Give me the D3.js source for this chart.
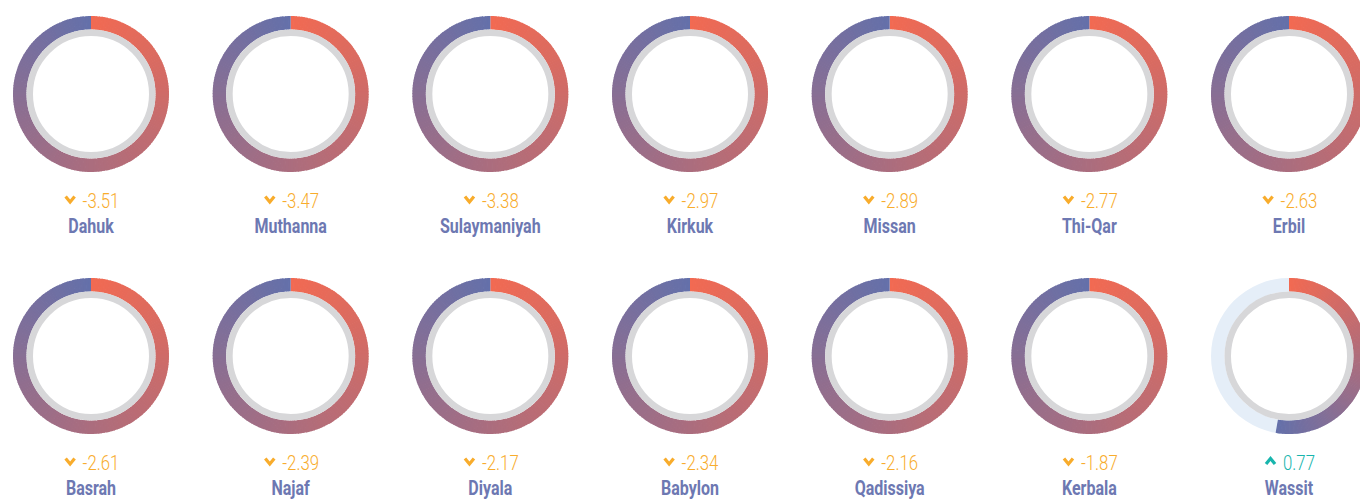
<!DOCTYPE html>
<html>
<head>
<meta charset="utf-8">
<script src="https://cdn.jsdelivr.net/npm/d3@7"></script>
<style>
  body { margin: 0; background: #fff; }
  svg { display: block; }
</style>
</head>
<body>
<div id="chart"></div>
<script>
// governorates, in the order they are drawn (two rows of seven)
const regions = ['Dahuk', 'Muthanna', 'Sulaymaniyah', 'Kirkuk', 'Missan', 'Thi-Qar', 'Erbil',
                 'Basrah', 'Najaf', 'Diyala', 'Babylon', 'Qadissiya', 'Kerbala', 'Wassit']
const changes = [-3.51, -3.47, -3.38, -2.97, -2.89, -2.77, -2.63,
                 -2.61, -2.39, -2.17, -2.34, -2.16, -1.87, 0.77]
// value that fills a whole ring (read from the Wassit ring, ~53% filled)
const ringMax = [0, 1.46]

const width = 1360
const height = 501
const cols = 7
const outerR = 78
const ringW = 13.5
const greyW = 6.5

const startColor = '#f26a52'
const endColor = '#6470aa'

// squeeze the text horizontally, there is no condensed font installed
const squeeze = 0.8

const svg = d3.select('#chart')
    .append('svg')
    .attr('width', width)
    .attr('height', height)

// column and row positions
const x = d3.scalePoint().domain(d3.range(cols)).range([91, 1289])
const y = d3.scalePoint().domain([0, 1]).range([94, 356])

// how far around the ring the coloured arc goes
const angle = d3.scaleLinear().domain(ringMax).range([0, 2 * Math.PI]).clamp(true)

const colorAt = d3.interpolateRgb(startColor, endColor)

const arc = d3.arc()
    .innerRadius(outerR - ringW)
    .outerRadius(outerR)

const cells = svg.selectAll('g.cell')
    .data(regions.map((name, i) => ({ name, value: changes[i], i })))
    .enter()
    .append('g')
    .attr('class', 'cell')
    .attr('transform', d => `translate(${x(d.i % cols)},${y(Math.floor(d.i / cols))})`)

// light track behind the arc (only visible when it is not full)
cells.filter(d => angle(Math.abs(d.value)) < 2 * Math.PI)
    .append('path')
    .attr('d', arc({ startAngle: 0, endAngle: 2 * Math.PI }))
    .attr('fill', '#e5eef8')

// coloured arc, split into thin slices so the colour runs along it
const slices = 180
cells.each(function(d) {
    const end = angle(Math.abs(d.value))
    const step = end / slices
    d3.select(this).selectAll('path.slice')
        .data(d3.range(slices))
        .enter()
        .append('path')
        .attr('class', 'slice')
        .attr('d', k => arc({
            startAngle: k * step,
            endAngle: Math.min(end, (k + 1) * step + (k < slices - 1 ? 0.01 : 0))
        }))
        .attr('fill', k => colorAt((k + 0.5) / slices))
})

// inner grey ring
cells.append('circle')
    .attr('r', outerR - ringW - greyW / 2)
    .attr('fill', 'none')
    .attr('stroke', '#d7d7d9')
    .attr('stroke-width', greyW)

// value line: chevron + number
const valueColor = d => d.value < 0 ? '#f8ac2c' : '#18b5ad'
const valueLine = cells.append('g')
    .attr('class', 'value')

valueLine.append('text')
    .attr('transform', `translate(18,0) scale(${squeeze},1)`)
    .attr('font-family', 'Roboto, "Liberation Sans", sans-serif')
    .attr('font-weight', 300)
    .attr('font-size', 21)
    .attr('fill', valueColor)
    .text(d => d.value.toFixed(2))

valueLine.append('path')
    .attr('d', d => d.value < 0 ? 'M1,-11.5 L5.5,-6 L10,-11.5' : 'M1,-6 L5.5,-11.5 L10,-6')
    .attr('fill', 'none')
    .attr('stroke', valueColor)
    .attr('stroke-width', 3.2)

valueLine.each(function() {
    const g = d3.select(this)
    const w = 18 + g.select('text').node().getComputedTextLength() * squeeze
    g.attr('transform', `translate(${-w / 2 + 1},${114})`)
})

// region name
cells.append('text')
    .attr('transform', `translate(0,139) scale(${squeeze},1)`)
    .attr('text-anchor', 'middle')
    .attr('font-family', 'Roboto, "Liberation Sans", sans-serif')
    .attr('font-weight', 'bold')
    .attr('font-size', 20)
    .attr('fill', '#6d78b2')
    .text(d => d.name)
</script>
</body>
</html>
